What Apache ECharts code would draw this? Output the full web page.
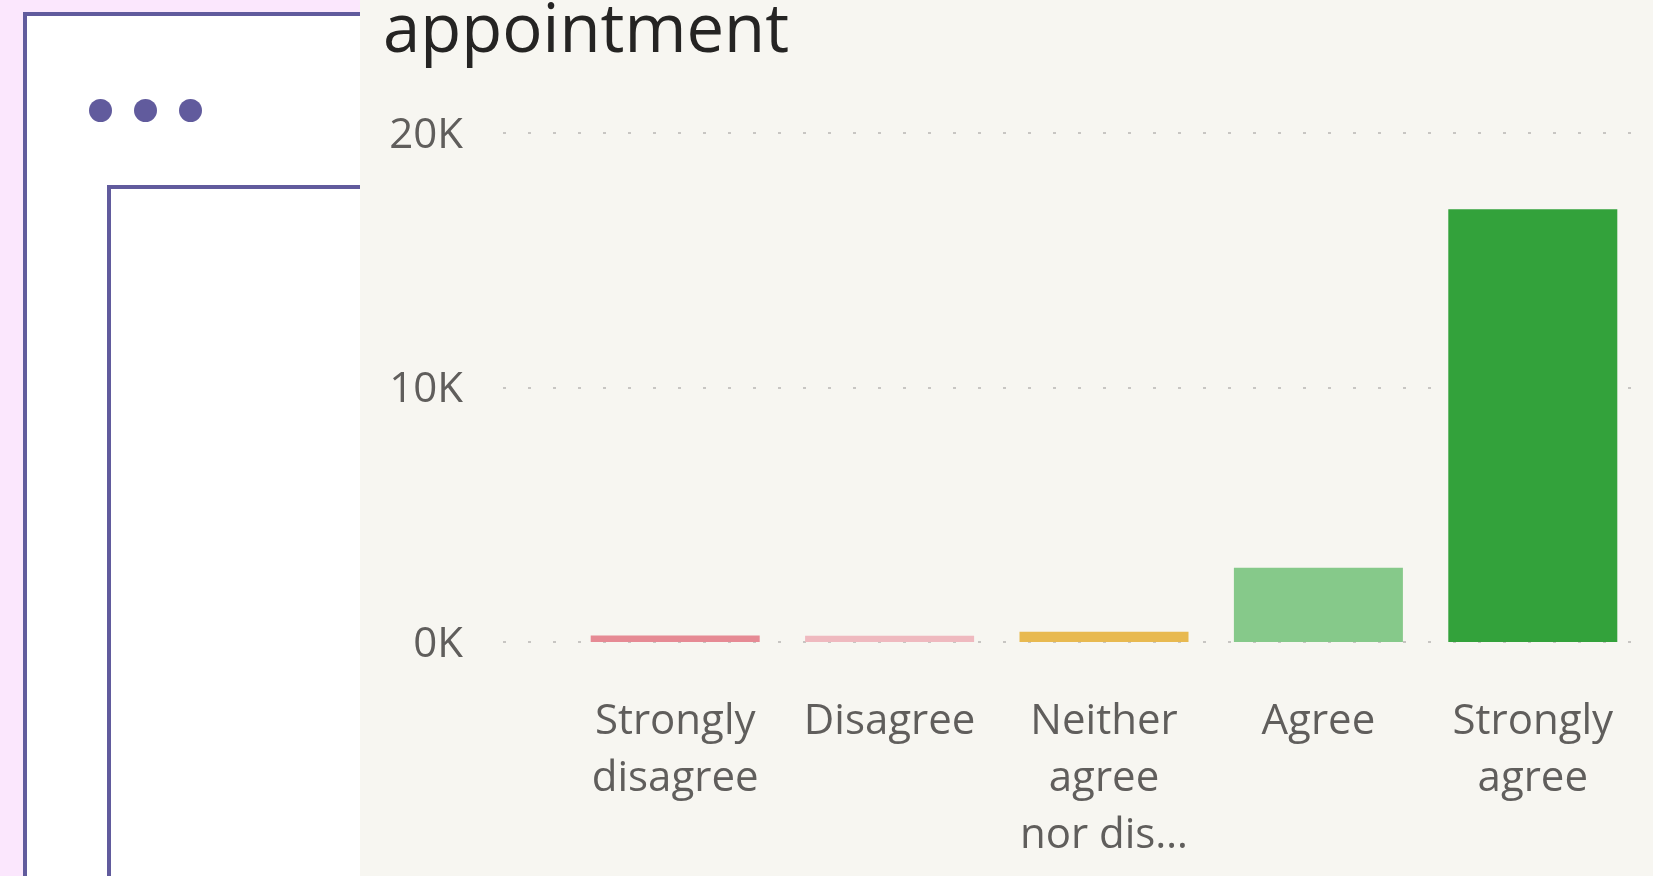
<!DOCTYPE html>
<html>
<head>
<meta charset="utf-8">
<script src="https://cdn.jsdelivr.net/npm/echarts@6/dist/echarts.min.js"></script>
<style>
    html, body {margin: 0; padding: 0; background: #fbe7fd; overflow: hidden;}
    .frame {position: absolute; box-sizing: border-box; border: 4px solid #615b9d; background: #fff; width: 600px; height: 1000px;}
    .dot {position: absolute; width: 23px; height: 23px; border-radius: 50%; background: #615b9d;}
    #chart {position: absolute; left: 360px; top: 0; width: 1293px; height: 876px; background: #f7f6f1;}
</style>
</head>
<body>
<div class="frame" style="left:23px;top:12px"></div>
<div class="dot" style="left:89px;top:99px"></div>
<div class="dot" style="left:134px;top:99px"></div>
<div class="dot" style="left:179px;top:99px"></div>
<div class="frame" style="left:107px;top:185px"></div>
<div id="chart"></div>
<script>
// survey answers, counts per answer
const categories = ['Strongly disagree', 'Disagree', 'Neither agree nor disagree', 'Agree', 'Strongly agree'];
const axisLabels = ['Strongly\ndisagree', 'Disagree', 'Neither\nagree\nnor dis…', 'Agree', 'Strongly\nagree'];
const counts = [260, 250, 400, 2920, 17000];
const barColors = ['#e68a94', '#efb9bf', '#e8b950', '#86c98a', '#33a23b'];
const yMax = 20000;
const yStep = 10000;

const font = "'Segoe UI', 'Open Sans', sans-serif";
const labelColor = '#605e5c';

let chart = echarts.init(document.getElementById('chart'));
let option = {
    animation: false,
    title: {
        text: 'appointment',
        left: 23,
        top: -1,
        padding: 0,
        textStyle: {
            fontFamily: font,
            fontSize: 67,
            fontWeight: 'normal',
            color: '#252423'
        }
    },
    grid: [
        // gridlines span wider than the bars
        {left: 143, right: 0, top: 133, bottom: 234},
        {left: 208, right: 13, top: 133, bottom: 234}
    ],
    xAxis: [
        {gridIndex: 0, type: 'value', show: false, min: 0, max: 1},
        {
            gridIndex: 1,
            type: 'category',
            data: categories,
            axisLine: {show: false},
            axisTick: {show: false},
            axisLabel: {
                interval: 0,
                margin: 52,
                fontFamily: font,
                fontSize: 42,
                lineHeight: 57,
                color: labelColor,
                formatter: (v, i) => axisLabels[i]
            }
        }
    ],
    yAxis: [
        {
            gridIndex: 0,
            type: 'value',
            min: 0,
            max: yMax,
            interval: yStep,
            axisLine: {show: false},
            axisTick: {show: false},
            axisLabel: {
                margin: 40,
                fontFamily: font,
                fontSize: 42,
                color: labelColor,
                formatter: v => '{k|' + (v / 1000) + 'K}',
                rich: {
                    k: {fontFamily: font, fontSize: 42, color: labelColor, padding: [6, 0, 0, 0]}
                }
            },
            splitLine: {
                lineStyle: {color: '#c8c6c3', width: 2, type: [3, 22]}
            }
        },
        {gridIndex: 1, type: 'value', show: false, min: 0, max: yMax, interval: yStep}
    ],
    series: [
        {
            type: 'bar',
            xAxisIndex: 1,
            yAxisIndex: 1,
            barWidth: 169,
            data: counts.map((v, i) => ({value: v, itemStyle: {color: barColors[i]}}))
        }
    ]
};
chart.setOption(option);
</script>
</body>
</html>
